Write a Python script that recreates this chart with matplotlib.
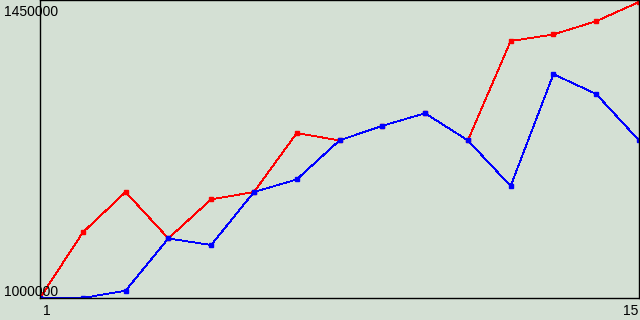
import matplotlib
matplotlib.use("Agg")
import matplotlib.pyplot as plt

# data
points = list(range(1, 16))
red_values = [1000000, 1099000, 1160000, 1090000, 1149000, 1160000, 1249000, 1238000,
              1260000, 1279000, 1238000, 1388000, 1398000, 1418000, 1447000]
blue_values = [1000000, 1000000, 1011000, 1090000, 1080000, 1160000, 1179000, 1238000,
               1260000, 1279000, 1238000, 1169000, 1338000, 1308000, 1238000]
y_min, y_max = 1000000, 1450000
y_labels = ["1000000", "1450000"]
x_labels = ["1", "15"]

bg = "#d4e0d4"
plt.rcParams["font.family"] = ["Liberation Sans", "DejaVu Sans"]

fig = plt.figure(figsize=(6.4, 3.2), dpi=100, facecolor=bg)
ax = fig.add_axes([40 / 640, 22 / 320, 599 / 640, 298 / 320], facecolor=bg)

ax.plot(points, red_values, color="#ff0000", lw=0.6, marker="s", ms=2.2,
        mec="#ff0000", mfc="#ff0000", antialiased=False)
ax.plot(points, blue_values, color="#0000ff", lw=0.6, marker="s", ms=2.2,
        mec="#0000ff", mfc="#0000ff", antialiased=False)

ax.set_xlim(points[0], points[-1])
ax.set_ylim(y_min, y_max)
ax.set_xticks([])
ax.set_yticks([])
for s in ax.spines.values():
    s.set_linewidth(1.0)
    s.set_color("black")

# labels drawn as text, baselines placed to match the reference
ax.text(4 / 640, 1 - 15.5 / 320, y_labels[1], transform=fig.transFigure, fontsize=10,
        ha="left", va="baseline")
ax.text(4 / 640, 1 - 296.5 / 320, y_labels[0], transform=fig.transFigure, fontsize=10,
        ha="left", va="baseline")
ax.text(43 / 640, 5 / 320, x_labels[0], transform=fig.transFigure, fontsize=10,
        ha="left", va="baseline")
ax.text(638 / 640, 5 / 320, x_labels[1], transform=fig.transFigure, fontsize=10,
        ha="right", va="baseline")

fig.savefig("out.png", dpi=100, facecolor=bg)
